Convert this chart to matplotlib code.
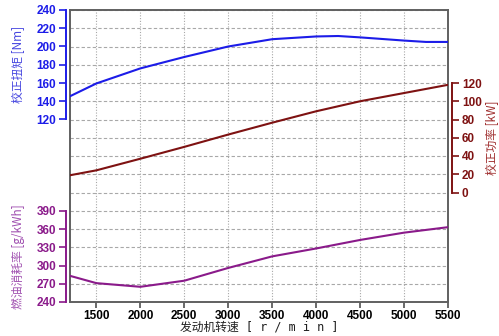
import numpy as np
import matplotlib
matplotlib.use("Agg")
import matplotlib.pyplot as plt

plt.rcParams['font.family'] = ['Liberation Sans', 'Noto Sans CJK SC', 'DejaVu Sans']

####################################################### data
rpm = [1200, 1500, 2000, 2500, 3000, 3500, 4000, 4250, 4500, 5000, 5250, 5500]
torque = [145.5, 159.5, 176, 188.5, 200, 208, 211, 211.5, 210, 206.5, 205, 205]
rpm_p = [1200, 1500, 2000, 2500, 3000, 3500, 4000, 4500, 5000, 5500]
power = [18.9, 24.3, 37, 50, 63.5, 76.5, 89, 100, 109, 118]
rpm_f = [1200, 1500, 2000, 2500, 3000, 3500, 4000, 4500, 5000, 5500]
fuel = [283, 271, 265, 275, 296, 315, 328, 342, 354, 363]
x_ticks = [1500, 2000, 2500, 3000, 3500, 4000, 4500, 5000, 5500]
torque_ticks = [120, 140, 160, 180, 200, 220, 240]
power_ticks = [0, 20, 40, 60, 80, 100, 120]
fuel_ticks = [240, 270, 300, 330, 360, 390]

c_tq = '#1c1ce8'
c_pw = '#7e1212'
c_fu = '#8a1a8a'
cjk = ['Noto Sans CJK SC', 'DejaVu Sans']

####################################################### figure
fig = plt.figure(figsize=(4.99, 3.36), dpi=100)
rect = [70/499, 1-302/336, 378/499, 292/336]

# background frame + grid
bg = fig.add_axes(rect)
bg.set_xlim(1200, 5500)
bg.set_ylim(0, 16)
bg.set_yticks(range(17))
bg.tick_params(axis='y', length=0, labelleft=False)
bg.set_xticks(x_ticks)
bg.tick_params(axis='x', direction='out', length=4, width=1.2, color='#505050',
               labelsize=8.5, pad=2)
for t in bg.get_xticklabels():
    t.set_fontweight('bold')
bg.grid(axis='y', ls=(0, (3, 2)), color='#a8a8a8', lw=0.8)
bg.grid(axis='x', ls=(0, (1, 1.5)), color='#a8a8a8', lw=0.8)
for s in bg.spines.values():
    s.set_color('#606060')
    s.set_linewidth(1.4)
bg.set_xlabel('发动机转速 [ r / m i n ]', family=['DejaVu Sans Mono', 'Noto Sans CJK SC'],
              fontsize=8.5, labelpad=-1, color='#202020')

def overlay(ylim, color, ticks, side):
    a = fig.add_axes(rect, sharex=bg)
    a.patch.set_visible(False)
    for s in a.spines.values():
        s.set_visible(False)
    a.xaxis.set_visible(False)
    a.set_ylim(*ylim)
    a.yaxis.set_ticks_position(side)
    a.yaxis.set_label_position(side)
    sp = a.spines[side]
    sp.set_visible(True)
    sp.set_position(('outward', 3))
    sp.set_bounds(ticks[0], ticks[-1])
    sp.set_color(color)
    sp.set_linewidth(1.4)
    a.set_yticks(ticks)
    a.tick_params(axis='y', direction='out', length=5, width=1.2, color=color,
                  labelcolor=color, labelsize=8.5, pad=2)
    for t in a.get_yticklabels():
        t.set_fontweight('bold')
    return a

tq = overlay((-80, 240), c_tq, torque_ticks, 'left')
tq.plot(rpm, torque, color=c_tq, lw=1.5)
tq.set_ylabel('校正扭矩 [Nm]', family=cjk, fontsize=8.5, color='#4848e0')
tq.yaxis.set_label_coords(-0.12, 0.8125)

fu = overlay((240, 720), c_fu, fuel_ticks, 'left')
fu.plot(rpm_f, fuel, color=c_fu, lw=1.5)
fu.set_ylabel('燃油消耗率 [g/kWh]', family=cjk, fontsize=8.5, color='#a050b0')
fu.yaxis.set_label_coords(-0.12, 0.156)

pw = overlay((-120, 200), c_pw, power_ticks, 'right')
pw.plot(rpm_p, power, color=c_pw, lw=1.5)
pw.set_ylabel('校正功率 [kW]', family=cjk, fontsize=8.5, color='#a03030')
pw.yaxis.set_label_coords(1.10, 0.5625)

fig.savefig('out.png', dpi=100)
